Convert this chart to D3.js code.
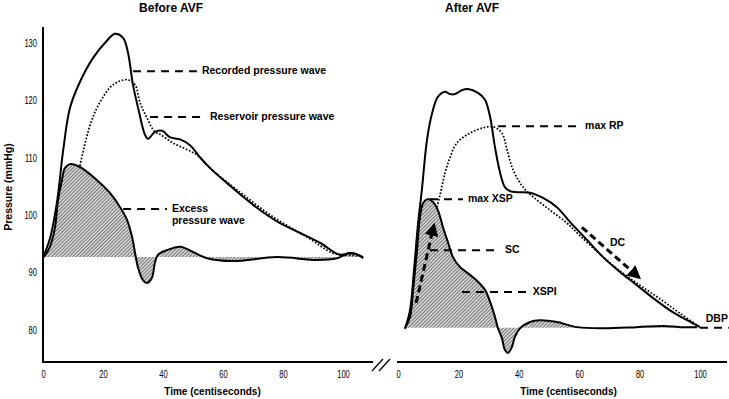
<html>

<head>
    <style>
        body { margin: 0; background: #fff; }
        text { font-family: "Liberation Sans", Arial, sans-serif; }
        .tick text { font-size: 10.5px; }
        .note { font-size: 10.5px; font-weight: bold; }
    </style>
</head>

<body>
    <svg id="container" height="399" width="729">
        <defs>
            <pattern id="hatch" width="2.5" height="2.5" patternUnits="userSpaceOnUse" patternTransform="rotate(45)">
                <rect width="2.5" height="2.5" fill="#d4d4d4"></rect>
                <line x1="0" y1="0" x2="0" y2="2.5" stroke="#333" stroke-width="1.1"></line>
            </pattern>
            <marker id="head" viewBox="0 0 10 10" refX="5" refY="5" markerWidth="4.5" markerHeight="4.5" orient="auto">
                <path d="M0,0 L10,5 L0,10 z" fill="#000"></path>
            </marker>
        </defs>
        <g id="left"></g>
        <g id="right"></g>
    </svg>

</body>
<script src="https://cdn.jsdelivr.net/npm/d3@7"></script>
<script>
    // time in centiseconds, pressure in mmHg
    let beforeRecorded = [[0, 92.7], [2.3, 95.9], [4.7, 102.4], [6.7, 111.2], [9, 118.7], [12.3, 123.2],
        [16.7, 127.4], [21.3, 130.4], [24, 131.6], [26.7, 130.9], [28.3, 128.4], [30, 122.7],
        [31.7, 118.7], [34, 114.0], [35, 113.3], [37.3, 114.5], [39.7, 114.7], [42.3, 113.6],
        [45.7, 113.2], [49, 112.2], [52.3, 110.1], [55.7, 108.2], [61.3, 105.6], [66.7, 103.2],
        [72.3, 100.9], [79, 98.6], [85.7, 96.9], [92.3, 95.2], [99, 93.1], [102.3, 93.4],
        [105, 93.1], [106.7, 92.5]]
    let beforeReservoir = [[12.3, 108.6], [15.7, 115.7], [19, 119.7], [23.3, 122.7], [28, 123.6],
        [30.7, 122.7], [32.3, 119.7], [34.7, 116.9], [37.3, 114.5], [39, 114.1], [43.3, 112.6],
        [51.3, 110.5], [55.7, 108.2], [65.7, 104.0], [76.7, 99.7], [88, 96.2], [96.7, 93.4],
        [101.3, 93.1], [106.3, 92.9]]
    let beforeExcess = [[0.3, 92.7], [2.3, 94.5], [4, 97.9], [5, 102.6], [6.3, 106.1], [7.3, 108.2],
        [9, 108.9], [12.3, 108.4], [18, 106.1], [22.3, 103.9], [25.7, 101.4], [28, 99.2],
        [29.7, 96.2], [30.7, 93.4], [31.7, 90.8], [33.3, 88.7], [34.7, 88.2], [36.3, 89.1],
        [37.3, 91.7], [38.3, 93.1], [41.3, 93.9], [45.7, 94.5], [50, 93.6], [54.7, 92.5],
        [63.3, 92.0], [78, 92.7], [91.3, 92.2], [98, 92.5], [102.3, 93.4], [106.7, 92.7]]
    let beforeBase = 92.7

    let afterRecorded = [[2.3, 80.2], [4, 83.5], [5.3, 90.5], [6.6, 98.3], [7.9, 104.4], [9.6, 113.1],
        [11.3, 117.8], [13.2, 120.6], [15.6, 121.5], [17.2, 121.1], [18.9, 121.1], [21.2, 121.8],
        [23.2, 122.0], [26.5, 121.3], [28.8, 120.1], [30.5, 117.1], [32.1, 111.9], [33.8, 107.4],
        [35.4, 104.9], [37.1, 104.2], [39.4, 104.0], [43.7, 103.9], [48, 103.0], [52.6, 101.4],
        [57, 98.8], [62.6, 95.7], [67.9, 92.7], [73.5, 90.1], [79.1, 87.8], [84.4, 85.6],
        [91, 83.1], [95.7, 81.7], [100, 80.5]]
    let afterReservoir = [[12.9, 101.4], [13.9, 103.5], [15.6, 107.4], [17.2, 110.0], [19.5, 112.6],
        [23.8, 114.3], [28.1, 115.2], [31.5, 115.4], [34.4, 114.3], [36.1, 111.4], [38.1, 107.9],
        [41.4, 104.9], [44.7, 103.2], [50.3, 100.9], [56, 98.6], [60.3, 96.4], [66.9, 93.2],
        [73.5, 90.3], [80.1, 87.8], [86.8, 85.4], [93.4, 82.9], [100, 80.5]]
    let afterExcess = [[2.3, 80.3], [4, 82.3], [5, 87.0], [6.3, 93.9], [7.3, 99.7], [8.3, 102.1],
        [9.9, 102.8], [11.6, 102.3], [13.2, 100.9], [14.9, 97.9], [16.6, 95.2], [18.2, 92.7],
        [20.5, 91.0], [23.8, 89.6], [26.5, 88.4], [28.8, 87.0], [30.5, 84.9], [32.1, 82.3],
        [33.1, 80.3], [34.4, 78.6], [35.4, 76.5], [36.4, 76.0], [37.7, 77.0], [38.7, 78.8],
        [40.4, 80.3], [43.7, 81.4], [47, 81.7], [52.6, 81.4], [59.3, 80.5], [67.9, 80.3],
        [79.1, 80.5], [87.7, 80.7], [93.4, 80.5], [99, 80.5]]
    let afterBase = 80.4

    let pressureTicks = [80, 90, 100, 110, 120, 130]
    let timeTicks = [0, 20, 40, 60, 80, 100]

    // annotation: [t start, t end, pressure, label lines]
    let beforeNotes = [
        [30, 51.3, 125.1, ["Recorded pressure wave"]],
        [35.7, 54, 117.1, ["Reservoir pressure wave"]],
        [26.7, 41.3, 101.1, ["Excess", "pressure wave"]]
    ]
    let afterNotes = [
        [33.1, 60.3, 115.5, ["max RP"]],
        [10.6, 21.5, 102.8, ["max XSP"]],
        [10.6, 33.8, 93.9, ["SC"]],
        [21.2, 43, 86.6, ["XSPI"]],
        [100, 109.5, 80.4, []]
    ]

    let svg = d3.select("#container")

    // squeeze tick labels to look like a narrow font
    function narrow(sel, dx) {
        sel.selectAll(".tick text")
            .attr("fill", "#000")
            .attr("transform", "scale(0.72,1)")
            .attr("x", dx / 0.72)
    }

    function panel(g, xRange, title, titleT, recorded, reservoir, excess, base, notes) {
        let x = d3.scaleLinear().domain([0, 100]).range(xRange)
        let y = d3.scaleLinear().domain([80, 130]).range([330, 43])
        let curve = d3.curveCatmullRom.alpha(0.5)

        // hatched excess area
        let area = d3.area()
            .x(d => x(d[0]))
            .y0(y(base))
            .y1(d => y(d[1]))
            .curve(curve)
        g.append("path")
            .attr("d", area(excess))
            .attr("fill", "url(#hatch)")

        let line = d3.line()
            .x(d => x(d[0]))
            .y(d => y(d[1]))
            .curve(curve)

        g.append("path")
            .attr("d", line(reservoir))
            .attr("fill", "none")
            .attr("stroke", "#000")
            .attr("stroke-width", 1.7)
            .attr("stroke-dasharray", "1.7,1.7")

        g.append("path")
            .attr("d", line(excess))
            .attr("fill", "none")
            .attr("stroke", "#000")
            .attr("stroke-width", 2)

        g.append("path")
            .attr("d", line(recorded))
            .attr("fill", "none")
            .attr("stroke", "#000")
            .attr("stroke-width", 2)

        // dashed leader lines and their labels
        notes.forEach(n => {
            g.append("line")
                .attr("x1", x(n[0])).attr("x2", x(n[1]))
                .attr("y1", y(n[2])).attr("y2", y(n[2]))
                .attr("stroke", "#000")
                .attr("stroke-width", 2)
                .attr("stroke-dasharray", "8,6")
            n[3].forEach((s, i) => {
                g.append("text")
                    .attr("class", "note")
                    .attr("x", x(n[1]) + 5)
                    .attr("y", y(n[2]) + 3 + i * 12)
                    .text(s)
            })
        })

        // x axis
        let xAxis = d3.axisBottom(x).tickValues(timeTicks).tickSize(0).tickPadding(9)
        let ax = g.append("g")
            .attr("transform", "translate(0,362)")
            .call(xAxis)
        ax.select(".domain").remove()
        narrow(ax, 0)

        g.append("text")
            .attr("x", x(56.5))
            .attr("y", 395)
            .attr("text-anchor", "middle")
            .style("font-size", "10px")
            .style("font-weight", "bold")
            .text("Time (centiseconds)")

        g.append("text")
            .attr("x", x(titleT))
            .attr("y", 12)
            .attr("text-anchor", "middle")
            .style("font-size", "12px")
            .style("font-weight", "bold")
            .text(title)

        return { x: x, y: y }
    }

    let left = d3.select("#left")
    let L = panel(left, [43, 343], "Before AVF", 42.7, beforeRecorded, beforeReservoir, beforeExcess, beforeBase, beforeNotes)

    // y axis only on the left panel
    let yAxis = d3.axisLeft(L.y).tickValues(pressureTicks).tickSize(0).tickPadding(6)
    let ay = left.append("g")
        .attr("transform", "translate(43,0)")
        .call(yAxis)
    ay.select(".domain").remove()
    narrow(ay, -6)

    left.append("line").attr("x1", 43).attr("x2", 43).attr("y1", 27).attr("y2", 363)
        .attr("stroke", "#000").attr("stroke-width", 2)
    left.append("line").attr("x1", 42).attr("x2", 373).attr("y1", 362).attr("y2", 362)
        .attr("stroke", "#000").attr("stroke-width", 2)

    left.append("text")
        .attr("transform", "translate(12,187) rotate(-90)")
        .attr("text-anchor", "middle")
        .style("font-size", "10.5px")
        .style("font-weight", "bold")
        .text("Pressure (mmHg)")

    let right = d3.select("#right")
    let R = panel(right, [398, 700], "After AVF", 24.5, afterRecorded, afterReservoir, afterExcess, afterBase, afterNotes)

    right.append("line").attr("x1", 397).attr("x2", 727).attr("y1", 362).attr("y2", 362)
        .attr("stroke", "#000").attr("stroke-width", 2)

    // axis break marks
    right.selectAll(".brk")
        .data([372, 379])
        .enter()
        .append("line")
        .attr("x1", d => d).attr("y1", 371)
        .attr("x2", d => d + 11).attr("y2", 359)
        .attr("stroke", "#000").attr("stroke-width", 1.3)

    // extra labels for the after panel
    right.append("text").attr("class", "note")
        .attr("x", R.x(70.2)).attr("y", 246).text("DC")
    right.append("text").attr("class", "note")
        .attr("x", R.x(101.9)).attr("y", 322).text("DBP")

    // slope arrows
    let arrows = [[6.0, 84.7, 11.6, 97.6], [60.9, 97.9, 78.8, 89.6]]
    right.selectAll(".arrow")
        .data(arrows)
        .enter()
        .append("line")
        .attr("x1", d => R.x(d[0])).attr("y1", d => R.y(d[1]))
        .attr("x2", d => R.x(d[2])).attr("y2", d => R.y(d[3]))
        .attr("stroke", "#000")
        .attr("stroke-width", 3)
        .attr("stroke-dasharray", "7,4")
        .attr("marker-end", "url(#head)")

</script>

</html>
